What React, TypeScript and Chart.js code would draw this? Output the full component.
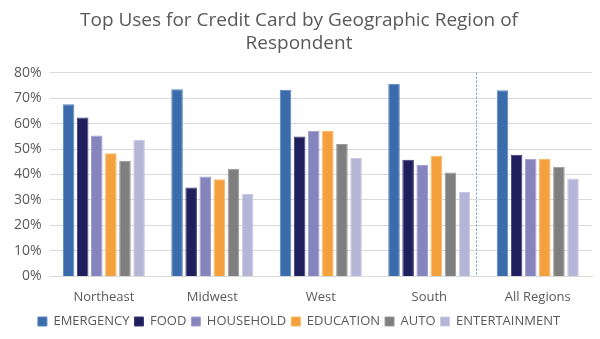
import React, { useEffect, useRef } from "react";
import { Chart, registerables } from "chart.js";

Chart.register(...registerables);

const categories = ["Northeast", "Midwest", "West", "South", "All Regions"];
const emergency = [67.6, 73.5, 73.3, 75.6, 73.1];
const food = [62.4, 34.9, 54.9, 45.8, 47.8];
const household = [55.3, 39.2, 57.2, 43.8, 46.2];
const education = [48.3, 38.1, 57.2, 47.4, 46.2];
const auto = [45.4, 42.3, 52.0, 40.8, 43.0];
const entertainment = [53.6, 32.3, 46.5, 33.1, 38.4];
const seriesNames = ["EMERGENCY", "FOOD", "HOUSEHOLD", "EDUCATION", "AUTO", "ENTERTAINMENT"];
const colors = ["#3A6BAA", "#201F5E", "#8584BD", "#F4A13D", "#7F7F7F", "#B5B5D8"];
const borders = ["#5A86C0", "#3A3A78", "#A09FD0", "#F8B862", "#999999", "#CACAE6"];

const dividerPlugin = {
  id: "divider",
  afterDatasetsDraw(chart: any) {
    const x = chart.scales.x;
    const y = chart.scales.y;
    const a = x.getPixelForValue(3);
    const b = x.getPixelForValue(4);
    const px = Math.round(a + 0.43 * (b - a)) + 0.5;
    const ctx = chart.ctx;
    ctx.save();
    ctx.strokeStyle = "#6F93CB";
    ctx.lineWidth = 1;
    ctx.setLineDash([2, 2]);
    ctx.beginPath();
    ctx.moveTo(px, y.top);
    ctx.lineTo(px, y.bottom);
    ctx.stroke();
    ctx.restore();
  },
};

export default function App() {
  const ref = useRef<HTMLCanvasElement>(null);
  useEffect(() => {
    document.body.style.margin = "0";
    const data = [emergency, food, household, education, auto, entertainment];
    const chart = new Chart(ref.current!, {
      type: "bar",
      data: {
        labels: categories,
        datasets: seriesNames.map((n, i) => ({
          label: n,
          data: data[i],
          backgroundColor: colors[i],
          borderColor: borders[i],
          borderWidth: 1,
          categoryPercentage: 0.78,
          barPercentage: 0.82,
        })),
      },
      options: {
        animation: false,
        responsive: false,
        maintainAspectRatio: false,
        layout: { padding: { left: 6, right: 8, top: 4, bottom: 1 } },
        plugins: {
          title: {
            display: true,
            text: ["Top Uses for Credit Card by Geographic Region of", "Respondent"],
            color: "#595959",
            font: { family: "Open Sans", size: 19, weight: "normal" },
            padding: { top: 5, bottom: 18 },
            lineHeight: 1.37,
          },
          legend: {
            position: "bottom",
            labels: {
              color: "#595959",
              font: { family: "Open Sans", size: 13 },
              boxWidth: 9,
              boxHeight: 9,
              padding: 5,
            },
          },
          tooltip: { enabled: false },
        },
        scales: {
          x: {
            grid: { display: false },
            border: { color: "#D9D9D9" },
            ticks: { color: "#595959", font: { family: "Open Sans", size: 13 }, padding: 5 },
          },
          y: {
            min: 0,
            max: 80,
            ticks: {
              stepSize: 10,
              color: "#595959",
              font: { family: "Open Sans", size: 14 },
              padding: 8,
              callback: (v: any) => v + "%",
            },
            grid: { color: "#D9D9D9", drawTicks: false },
            border: { display: false },
          },
        },
      },
      plugins: [dividerPlugin],
    });
    return () => chart.destroy();
  }, []);
  return (
    <div style={{ position: "absolute", left: 0, top: 0, width: 600, height: 339 }}>
      <canvas ref={ref} width={600} height={339} />
    </div>
  );
}
